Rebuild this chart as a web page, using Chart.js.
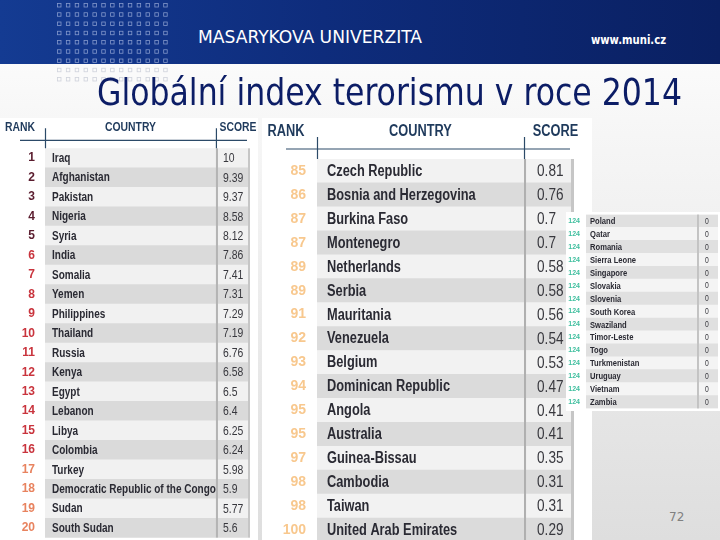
<!DOCTYPE html>
<html>
<head>
<meta charset="utf-8">
<script src="https://cdn.jsdelivr.net/npm/chart.js@4.4.1/dist/chart.umd.min.js"></script>
<style>
html,body{margin:0;padding:0;}
body{width:720px;height:540px;overflow:hidden;position:relative;
  background:linear-gradient(#ffffff 0%,#f6f6f6 25%,#e6e6e6 75%,#dedede 100%);
  font-family:"DejaVu Sans",sans-serif;}
#head{position:absolute;left:0;top:0;width:720px;height:64px;
  background:linear-gradient(90deg,#143b92 0%,#0e2c7c 45%,#0a2062 100%);}
#logo{position:absolute;left:0;top:0;}
.fit{position:absolute;white-space:nowrap;transform-origin:0 0;line-height:1;}
#uni{left:198px;top:29px;color:#fff;font-size:17px;font-family:"DejaVu Sans Condensed","DejaVu Sans";}
#web{left:591px;top:34px;color:#fff;font-size:12px;font-weight:bold;font-family:"DejaVu Sans Condensed","DejaVu Sans";}
#title{left:97px;top:73px;color:#0c1d66;font-size:38px;font-family:"DejaVu Sans Condensed","DejaVu Sans";}
#page{position:absolute;left:669px;top:510px;color:#808080;font-size:12px;font-family:"DejaVu Sans";}
.box{position:absolute;background:#fff;}
.box canvas{display:block;}
</style>
</head>
<body>
<div id="head"></div>
<canvas id="logo" width="180" height="84"></canvas>
<span id="uni" class="fit" data-w="224">MASARYKOVA UNIVERZITA</span>
<span id="web" class="fit" data-w="75">www.muni.cz</span>
<span id="title" class="fit" data-w="585">Globální index terorismu v roce 2014</span>

<div class="box" style="left:0;top:118px;width:258px;height:422px;"><canvas id="tabLeft"></canvas></div>
<div class="box" style="left:262px;top:118px;width:330px;height:430px;"><canvas id="tabMid"></canvas></div>
<div class="box" style="left:566px;top:212px;width:154px;height:199px;"><canvas id="tabRight"></canvas></div>
<div id="page">72</div>

<script>
// data
var leftRanks = [1,2,3,4,5,6,7,8,9,10,11,12,13,14,15,16,17,18,19,20];
var leftCountries = ['Iraq','Afghanistan','Pakistan','Nigeria','Syria','India','Somalia','Yemen','Philippines','Thailand',
  'Russia','Kenya','Egypt','Lebanon','Libya','Colombia','Turkey','Democratic Republic of the Congo','Sudan','South Sudan'];
var leftScores = [10,9.39,9.37,8.58,8.12,7.86,7.41,7.31,7.29,7.19,6.76,6.58,6.5,6.4,6.25,6.24,5.98,5.9,5.77,5.6];

var midRanks = [85,86,87,87,89,89,91,92,93,94,95,95,97,98,98,100];
var midCountries = ['Czech Republic','Bosnia and Herzegovina','Burkina Faso','Montenegro','Netherlands','Serbia',
  'Mauritania','Venezuela','Belgium','Dominican Republic','Angola','Australia','Guinea-Bissau','Cambodia','Taiwan',
  'United Arab Emirates'];
var midScores = [0.81,0.76,0.7,0.7,0.58,0.58,0.56,0.54,0.53,0.47,0.41,0.41,0.35,0.31,0.31,0.29];

var rightRanks = [124,124,124,124,124,124,124,124,124,124,124,124,124,124,124];
var rightCountries = ['Poland','Qatar','Romania','Sierra Leone','Singapore','Slovakia','Slovenia','South Korea',
  'Swaziland','Timor-Leste','Togo','Turkmenistan','Uruguay','Vietnam','Zambia'];
var rightScores = [0,0,0,0,0,0,0,0,0,0,0,0,0,0,0];

var headers = ['RANK','COUNTRY','SCORE'];

// logo squares
var lg = document.getElementById('logo').getContext('2d');
for (var r = 0; r < 9; r++) {
  for (var c = 0; c < 13; c++) {
    lg.strokeStyle = r < 7 ? 'rgba(170,185,225,0.75)' : 'rgba(180,185,200,0.6)';
    lg.lineWidth = 0.8;
    lg.strokeRect(57.5 + c * 8.85, 3.5 + r * 9.25, 3.5, 3.5);
  }
}

var FONT = '"Liberation Sans",Arial,sans-serif';
var SQ = 0.8; // the source uses a condensed face

// condensed text: squeeze the normal face horizontally
function narrowText(ctx, s, x, y) {
  var w = ctx.measureText(s).width;
  ctx.fillText(s, x, y, w * SQ);
}

function makeTable(id, o) {
  var rowCol = o.countries.map(function(n, i){ return (i % 2 === o.darkStart) ? o.dark : o.light; });
  var textPlugin = {
    id: 'tableText',
    afterDatasetsDraw: function(chart) {
      var ctx = chart.ctx, x = chart.scales.x, y = chart.scales.y, a = chart.chartArea;
      var sx = x.getPixelForValue(o.split);
      var sx2 = x.getPixelForValue(o.split + o.gap);
      ctx.save();
      // column separator and right edge
      ctx.fillStyle = o.sepCol;
      ctx.fillRect(sx, a.top, sx2 - sx, a.bottom - a.top);
      ctx.fillStyle = '#c6c6c6';
      ctx.fillRect(a.right, a.top, o.edge, a.bottom - a.top);
      ctx.textBaseline = 'middle';
      ctx.textAlign = 'left';
      o.countries.forEach(function(name, i){
        var yy = y.getPixelForValue(i) + 0.5;
        ctx.font = 'bold ' + o.nameSize + 'px ' + FONT;
        ctx.fillStyle = '#2a2a33';
        narrowText(ctx, name, x.getPixelForValue(0) + o.namePad, yy);
        ctx.font = o.scoreSize + 'px ' + FONT;
        ctx.fillStyle = '#38383e';
        narrowText(ctx, String(o.scores[i]), sx2 + o.scorePad, yy);
      });
      if (o.head) {
        var h = o.head;
        ctx.font = 'bold ' + h.size + 'px ' + FONT;
        ctx.fillStyle = '#1f3a5c';
        ctx.textAlign = 'center';
        var hy = a.top - h.textDy;
        narrowText(ctx, headers[0], a.left - h.rankDx, hy);
        narrowText(ctx, headers[1], (x.getPixelForValue(0) + sx) / 2, hy);
        narrowText(ctx, headers[2], (sx2 + a.right) / 2 + h.scoreDx, hy);
        ctx.strokeStyle = '#2c4a68';
        ctx.lineWidth = 1.2;
        ctx.beginPath();
        ctx.moveTo(a.left - h.rankDx, a.top - h.lineDy);
        ctx.lineTo(a.right - 1, a.top - h.lineDy);
        ctx.moveTo(a.left + 0.5, a.top - h.tickH);
        ctx.lineTo(a.left + 0.5, a.top);
        ctx.moveTo(sx + 0.5, a.top - h.tickH);
        ctx.lineTo(sx + 0.5, a.top);
        ctx.stroke();
      }
      ctx.restore();
    }
  };

  return new Chart(document.getElementById(id), {
    type: 'bar',
    data: {
      labels: o.countries,
      datasets: [
        { data: o.countries.map(function(){ return [0, o.split]; }), backgroundColor: rowCol },
        { data: o.scores.map(function(){ return [o.split + o.gap, 100]; }), backgroundColor: rowCol }
      ]
    },
    options: {
      indexAxis: 'y',
      responsive: true,
      maintainAspectRatio: false,
      animation: false,
      events: [],
      layout: { padding: o.padding },
      datasets: { bar: { grouped: false, barPercentage: 1, categoryPercentage: 1, borderWidth: 0 } },
      plugins: { legend: { display: false }, tooltip: { enabled: false } },
      scales: {
        x: { display: false, min: 0, max: 100 },
        y: {
          type: 'category',
          grid: { display: false, drawTicks: false },
          border: { display: false },
          afterFit: function(s){
            s.width = o.rankW;
            // rows must span the whole table, no extra label room
            s.paddingTop = 0;
            s.paddingBottom = 0;
          },
          ticks: {
            autoSkip: false,
            padding: o.rankPad,
            font: { family: FONT, weight: 'bold', size: o.rankSize },
            color: function(c){ return o.rankColors[c.index]; },
            callback: function(v, i){ return o.ranks[i]; }
          }
        }
      }
    },
    plugins: [textPlugin]
  });
}

makeTable('tabLeft', {
  countries: leftCountries, scores: leftScores, ranks: leftRanks,
  rankColors: leftRanks.map(function(r){ return r <= 5 ? '#5a1c2e' : (r <= 16 ? '#c9343d' : '#e8835f'); }),
  padding: { top: 30.3, bottom: 2.3, left: 0, right: 10 },
  rankW: 45, rankPad: 10, rankSize: 12,
  split: 84.2, gap: 1, light: '#f1f1f1', dark: '#dadada', darkStart: 1, sepCol: '#b4b4b4', edge: 2,
  nameSize: 12.5, namePad: 7, scoreSize: 13, scorePad: 5,
  head: { size: 13, textDy: 21, lineDy: 8, tickH: 20, rankDx: 25, scoreDx: 5 }
});

makeTable('tabMid', {
  countries: midCountries, scores: midScores, ranks: midRanks,
  rankColors: midRanks.map(function(){ return '#f8c88e'; }),
  padding: { top: 41, bottom: 6, left: 0, right: 21 },
  rankW: 55, rankPad: 11, rankSize: 14,
  split: 81.5, gap: 0.8, light: '#f2f2f2', dark: '#dbdbdb', darkStart: 1, sepCol: '#b0b0b0', edge: 3,
  nameSize: 16, namePad: 10, scoreSize: 17, scorePad: 11,
  head: { size: 16, textDy: 27, lineDy: 10, tickH: 22, rankDx: 31, scoreDx: 7 }
});

makeTable('tabRight', {
  countries: rightCountries, scores: rightScores, ranks: rightRanks,
  rankColors: rightRanks.map(function(){ return '#3fbf9f'; }),
  padding: { top: 2.5, bottom: 2.5, left: 0, right: 2 },
  rankW: 20, rankPad: 6, rankSize: 7,
  split: 84.1, gap: 1.5, light: '#f4f4f4', dark: '#e0e0e0', darkStart: 0, sepCol: '#c4c4c4', edge: 0,
  nameSize: 9.5, namePad: 4, scoreSize: 8.5, scorePad: 6,
  head: null
});

// squeeze header texts to the widths of the slide
function fitAll() {
  document.querySelectorAll('.fit').forEach(function(el){
    el.style.transform = 'none';
    var w = el.getBoundingClientRect().width;
    el.style.transform = 'scaleX(' + (el.dataset.w / w) + ')';
  });
}
fitAll();
if (document.fonts) document.fonts.ready.then(fitAll);
</script>
</body>
</html>
